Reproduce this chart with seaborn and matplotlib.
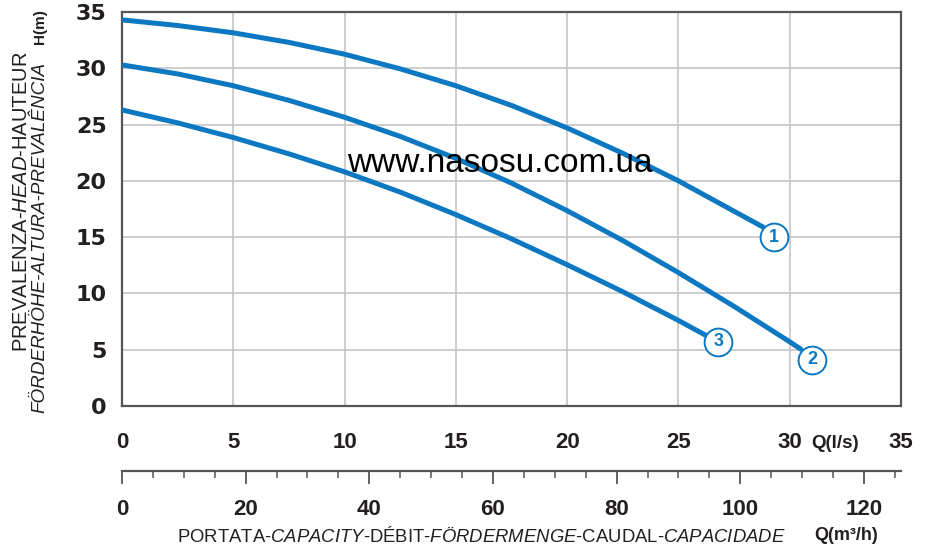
import pandas as pd
import matplotlib
matplotlib.use("Agg")
import matplotlib.pyplot as plt
from matplotlib.ticker import MultipleLocator
import seaborn as sns

# pump curves: Q in l/s, H in m
q_curve1 = [0, 2.5, 5, 7.5, 10, 12.5, 15, 17.5, 20, 22.5, 25, 27.5, 28.8]
h_curve1 = [34.3, 33.8, 33.15, 32.3, 31.25, 29.95, 28.45, 26.7, 24.7, 22.45, 20.0, 17.3, 15.9]

q_curve2 = [0, 2.5, 5, 7.5, 10, 12.5, 15, 17.5, 20, 22.5, 25, 27.5, 30, 30.5]
h_curve2 = [30.3, 29.5, 28.45, 27.15, 25.65, 23.95, 22.0, 19.8, 17.35, 14.7, 11.85, 8.85, 5.7, 5.05]

q_curve3 = [0, 2.5, 5, 7.5, 10, 12.5, 15, 17.5, 20, 22.5, 25, 26.3]
h_curve3 = [26.3, 25.15, 23.85, 22.4, 20.8, 19.0, 17.0, 14.85, 12.55, 10.15, 7.6, 6.2]

curve_names = ["1", "2", "3"]
label_q = [29.3, 31.0, 26.8]
label_h = [15.0, 4.1, 5.7]

x_ticks_ls = [0, 5, 10, 15, 20, 25, 30, 35]
x_ticks_m3h = [0, 20, 40, 60, 80, 100, 120]
y_ticks = [0, 5, 10, 15, 20, 25, 30, 35]

BLUE = "#0b78c1"
DARK = "#231f20"
SPINE = "#555555"

sns.set_style("white")
plt.rcParams["font.family"] = ["Liberation Sans", "DejaVu Sans"]
plt.rcParams["mathtext.fontset"] = "custom"
plt.rcParams["mathtext.rm"] = "Liberation Sans"
plt.rcParams["mathtext.it"] = "Liberation Sans:italic"

df = pd.concat([
    pd.DataFrame({"Q": q_curve1, "H": h_curve1, "curve": "1"}),
    pd.DataFrame({"Q": q_curve2, "H": h_curve2, "curve": "2"}),
    pd.DataFrame({"Q": q_curve3, "H": h_curve3, "curve": "3"}),
])

W, H = 927, 552
fig = plt.figure(figsize=(W / 100, H / 100), dpi=100)
ax = fig.add_axes([122 / W, 1 - 406 / H, 779 / W, 394 / H])

sns.lineplot(data=df, x="Q", y="H", units="curve", estimator=None, sort=False,
             color=BLUE, linewidth=3.6, solid_joinstyle="round", ax=ax, zorder=3)
sns.scatterplot(x=label_q, y=label_h, s=400, color="white", edgecolor=BLUE,
                linewidth=1.4, zorder=4, ax=ax)
for name, q, h in zip(curve_names, label_q, label_h):
    ax.text(q, h, name, color=BLUE, fontsize=13, fontweight="bold",
            ha="center", va="center", zorder=5)

ax.set_xlim(0, 35)
ax.set_ylim(0, 35)
ax.set_xticks(x_ticks_ls)
ax.set_yticks(y_ticks)
ax.xaxis.set_minor_locator(MultipleLocator(1))
ax.yaxis.set_minor_locator(MultipleLocator(1))
ax.grid(True, which="major", color="#c6c6c6", linewidth=1.2)
ax.set_axisbelow(True)
ax.set_xlabel("")
ax.set_ylabel("")

for sp in ax.spines.values():
    sp.set_visible(True)
    sp.set_color(SPINE)
    sp.set_linewidth(1.6)

ax.tick_params(axis="x", which="major", direction="out", length=9, width=1.3,
               color=SPINE, pad=9.5, labelsize=16, labelcolor=DARK)
ax.tick_params(axis="x", which="minor", direction="out", length=5, width=1.1, color=SPINE)
ax.tick_params(axis="y", which="major", direction="out", length=8, width=1.3,
               color=SPINE, pad=3, labelsize=16, labelcolor=DARK)
ax.tick_params(axis="y", which="minor", direction="out", length=6, width=1.1, color=SPINE)
for lab in ax.get_xticklabels():
    lab.set_fontweight("bold")
for lab in ax.get_yticklabels():
    lab.set_fontweight("bold")
    lab.set_family("DejaVu Sans")

# second flow scale in m3/h under the l/s scale
sec = ax.secondary_xaxis(-65 / 394, functions=(lambda q: q * 3.6, lambda m: m / 3.6))
sec.set_xticks(x_ticks_m3h)
sec.xaxis.set_minor_locator(MultipleLocator(5))
sec.spines["bottom"].set_color(SPINE)
sec.spines["bottom"].set_linewidth(1.6)
sec.tick_params(axis="x", which="major", direction="out", length=9, width=1.3,
                color=SPINE, pad=11.5, labelsize=16, labelcolor=DARK)
sec.tick_params(axis="x", which="minor", direction="out", length=5, width=1.1, color=SPINE)
for lab in sec.get_xticklabels():
    lab.set_fontweight("bold")

fig.text(835 / W, 1 - 443 / H, "Q(l/s)", fontsize=13.5, fontweight="bold",
         color=DARK, ha="center", va="center")
fig.text(846 / W, 1 - 536 / H, "Q(m³/h)", fontsize=13, fontweight="bold",
         color=DARK, ha="center", va="center")
fig.text(481 / W, 1 - 536 / H,
         r"PORTATA-$\mathit{CAPACITY}$-DÉBIT-$\mathit{FÖRDERMENGE}$-CAUDAL-$\mathit{CAPACIDADE}$",
         fontsize=13.3, color=DARK, ha="center", va="center")

fig.text(22 / W, 1 - 202 / H, r"PREVALENZA-$\mathit{HEAD}$-HAUTEUR",
         fontsize=14.5, color=DARK, rotation=90, ha="center", va="center")
fig.text(40 / W, 1 - 237 / H, "FÖRDERHÖHE-ALTURA-PREVALÊNCIA", fontstyle="italic",
         fontsize=13.6, color=DARK, rotation=90, ha="center", va="center")
fig.text(40 / W, 1 - 27 / H, "H(m)", fontsize=11, fontweight="bold",
         color=DARK, rotation=90, ha="center", va="center")

fig.text(500 / W, 1 - 164 / H, "www.nasosu.com.ua",
         fontsize=24, color="black", ha="center", va="center", zorder=6)

fig.savefig("out.png", dpi=100)
